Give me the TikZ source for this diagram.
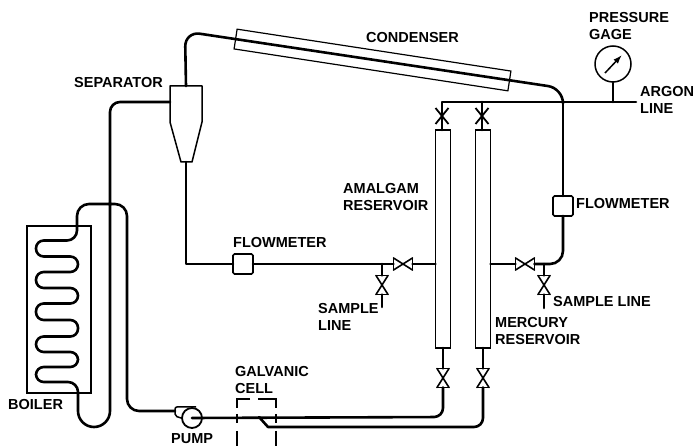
\documentclass[tikz,border=0pt]{standalone}
\usepackage{fontspec}
\setmainfont{Liberation Sans}
\usetikzlibrary{positioning,calc,arrows.meta,shapes.misc}
\tikzset{
  tubo/.style={line width=2.6pt, line cap=round, line join=round},
  marco/.style={rectangle, draw, line width=1.2pt, inner sep=0pt, outer sep=0pt},
  caudal/.style={marco, rounded corners=1.5pt, line width=1.6pt, minimum size=20pt},
  deposito/.style={marco, line width=1.4pt, minimum width=15pt, minimum height=218pt},
  trazoval/.style={line width=1.6pt, line cap=round},
  valvula/.style={
    rectangle, inner sep=0pt, outer sep=0pt, minimum width=19pt, minimum height=12pt,
    append after command={
      (\tikzlastnode.north west) edge[trazoval] (\tikzlastnode.south east)
      (\tikzlastnode.north east) edge[trazoval] (\tikzlastnode.south west)
      (\tikzlastnode.north west) edge[trazoval] (\tikzlastnode.south west)
      (\tikzlastnode.north east) edge[trazoval] (\tikzlastnode.south east)}},
  valvulax/.style={cross out, draw, line width=1.8pt, inner sep=0pt, outer sep=0pt,
    minimum width=13pt, minimum height=16pt},
  rotulo/.style={anchor=west, inner sep=0pt, align=left, font=\fontsize{14.5}{17}\selectfont\bfseries},
  trazos/.style={line width=1.5pt}
}
\begin{document}
\begin{tikzpicture}[x=1pt,y=-1pt]
\useasboundingbox (0,0) rectangle (694,446);

% Equipos
\node[marco, minimum width=64pt, minimum height=167pt] (caldera) at (59,309.5) {};
\node[rectangle, inner sep=0pt, outer sep=0pt, minimum width=32pt, minimum height=36pt] (separador) at (186,104) {};
\coordinate (fondo) at (186,162);
\draw[line width=1.5pt, line join=round] (separador.south west) -- (separador.north west) -- (separador.north east)
  -- (separador.south east) -- (192,162) -- (181,162) -- cycle;
\node[marco, rotate=-8.7, minimum width=277pt, minimum height=20pt] (condensador) at (372.5,60) {};
\node[deposito] (amalgama) at (443,239) {};
\node[deposito] (mercurio) at (483,239) {};
\node[caudal] (caudal1) at (243,264) {};
\node[caudal] (caudal2) at (563,206) {};
\node[circle, draw, line width=1.5pt, minimum size=36pt, inner sep=0pt] (manometro) at (613,64) {};
\draw[-{Latex[length=9pt,width=6pt]}, line width=1.5pt] (605,73) -- (622,55);
\node[circle, draw, line width=1.8pt, minimum size=20pt, inner sep=0pt] (bomba) at (192,418) {};
\draw[line width=1.5pt, rounded corners=2pt] (196,407) -- (175,407) -- (175,416) -- (bomba.west);

% Valvulas
\node[valvula] (valizq) at (403,264) {};
\node[valvula] (valder) at (525,264) {};
\node[valvula, rotate=90] (valmuestra1) at (382,285) {};
\node[valvula, rotate=90] (valmuestra2) at (544,285) {};
\node[valvulax] (valsup1) at (442,116) {};
\node[valvulax] (valsup2) at (482,116) {};
\node[valvula, rotate=90] (valinf1) at (443,378) {};
\node[valvula, rotate=90] (valinf2) at (483,378) {};

\coordinate (argon) at (636,102);
\coordinate (union) at (563,102);
\coordinate (cola1) at (382,307);
\coordinate (cola2) at (544,308);
\coordinate (tee1) at (382,264);
\coordinate (tee2) at (544,264);

% Tuberias
\draw[tubo, rounded corners=12pt] (175,411) -- (127,411) -- (127,204) -- (77,204)
  [rounded corners=10pt] -- (77,240.5) [rounded corners=7.7pt] -- (36,240.5) -- (36,256.5) -- (78,256.5)
  -- (78,272) -- (36,272) -- (36,288) -- (78,288) -- (78,303.5) -- (36,303.5) -- (36,320)
  -- (78,320) -- (78,336.5) -- (36,336.5) -- (36,352) -- (78,352) -- (78,367) -- (36,367) -- (36,382)
  [rounded corners=10pt] -- (78,382) [rounded corners=16pt] -- (78,427) -- (110,427)
  [rounded corners=10pt] -- (110,102) -- (separador.west |- 0,102);
\draw[tubo, rounded corners=15pt] (separador.north) -- (185,31.5) -- (563,88.3) [rounded corners=13pt] -- (union);
\draw[tubo] (fondo) |- (caudal1.west);
\draw[tubo] (caudal1.east) -- (valizq.west);
\draw[tubo] (valizq.east) -- (amalgama.west |- valizq);
\draw[tubo] (mercurio.east |- valder) -- (valder.west);
\draw[tubo, rounded corners=13pt] (valder.east) -| (caudal2.south);
\draw[tubo] (caudal2.north) -- (union);
\draw[tubo] (tee1) -- (valmuestra1.east);
\draw[tubo] (valmuestra1.west) -- (cola1);
\draw[tubo] (tee2) -- (valmuestra2.east);
\draw[tubo] (valmuestra2.west) -- (cola2);
\draw[tubo] (amalgama.north -| valsup1) |- (argon);
\draw[tubo] (mercurio.north -| valsup2) -- (valsup2.center |- argon);
\draw[tubo] (manometro.south) -- (manometro.south |- argon);
\draw[tubo] (amalgama.south) -- (valinf1.east);
\draw[tubo] (mercurio.south) -- (valinf2.east);
\draw[tubo, rounded corners=9pt] (bomba.center) -- (443,417) -- (valinf1.west);
\draw[tubo] (259,417) -- (268,427) [rounded corners=9pt] -- (483,427) -- (valinf2.west);

% Celda
\draw[trazos, dash pattern=on 22pt off 6pt on 9pt off 8pt on 15pt] (250,399) -| (237,446);
\draw[trazos, dash pattern=on 27pt off 6pt on 9pt off 8pt on 15pt] (258,399) -| (276,446);

% Rotulos
\node[rotulo] (r1) at (74,83) {SEPARATOR};
\node[rotulo] (r2) at (366,38) {CONDENSER};
\node[rotulo] (r3) at (589,26) {PRESSURE\\GAGE};
\node[rotulo] (r4) at (640,99.5) {ARGON\\LINE};
\node[rotulo] (r5) at (576,204) {FLOWMETER};
\node[rotulo] (r6) at (233,243) {FLOWMETER};
\node[rotulo] (r7) at (343,197) {AMALGAM\\RESERVOIR};
\node[rotulo] (r8) at (318,316.5) {SAMPLE\\LINE};
\node[rotulo] (r9) at (553,302) {SAMPLE LINE};
\node[rotulo] (r10) at (495,331.5) {MERCURY\\RESERVOIR};
\node[rotulo] (r11) at (235,380) {GALVANIC\\CELL};
\node[rotulo] (r12) at (8,405) {BOILER};
\node[rotulo] (r13) at (171,439) {PUMP};

\end{tikzpicture}
\end{document}
